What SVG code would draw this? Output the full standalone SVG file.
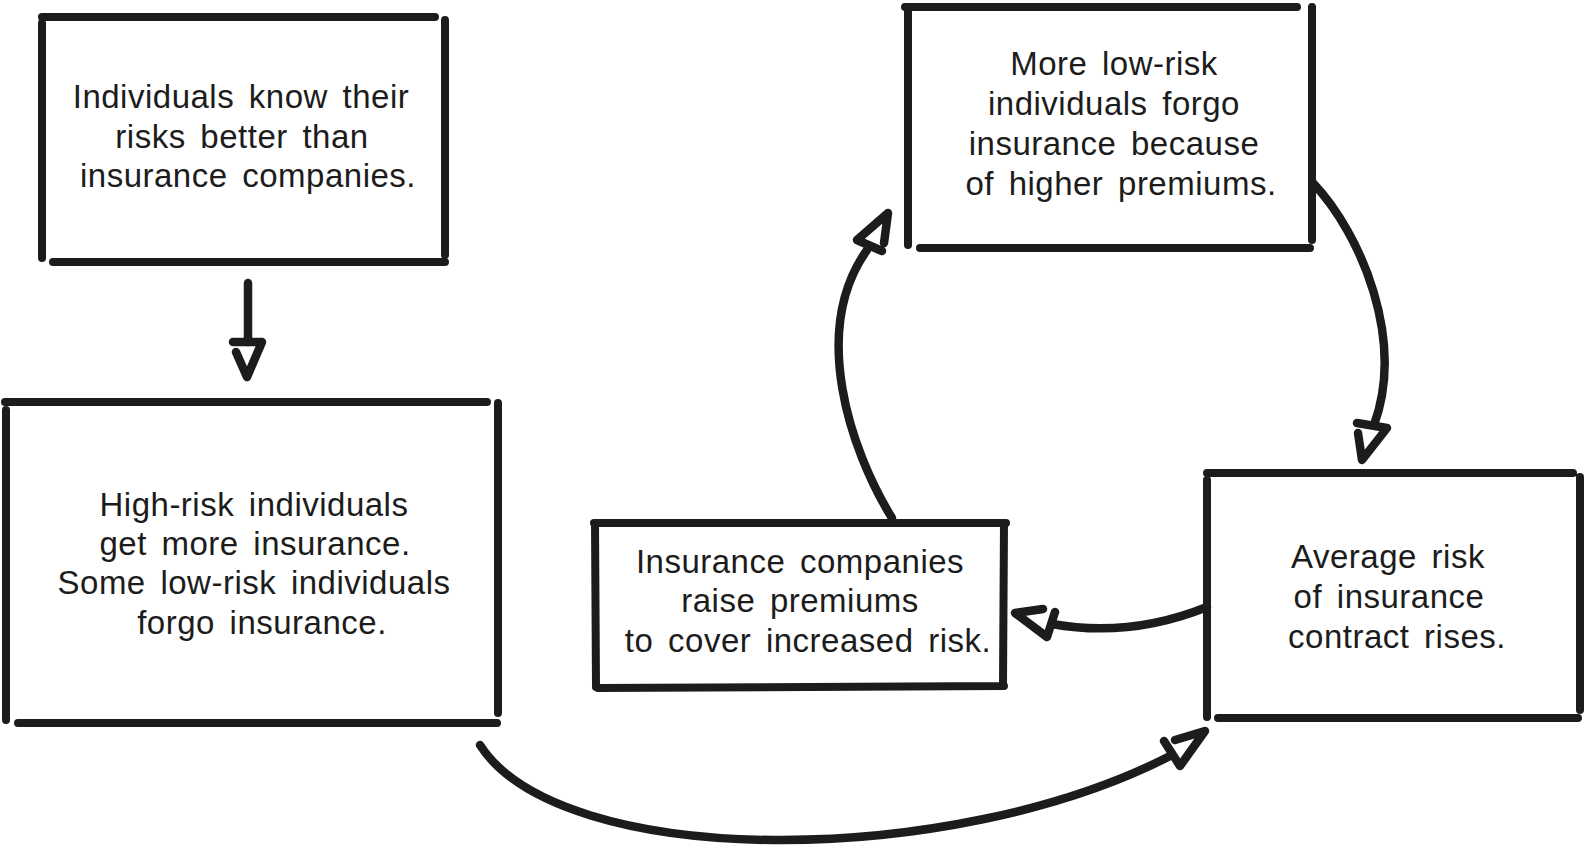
<svg xmlns="http://www.w3.org/2000/svg" width="1586" height="845" viewBox="0 0 1586 845">
<style>
.b{stroke:#1c1c1c;stroke-width:8;stroke-linecap:round;stroke-linejoin:round;fill:none}
.c{stroke:#1c1c1c;stroke-width:8.5;stroke-linecap:round;stroke-linejoin:round;fill:none}
.t{font-family:"Liberation Sans",Arial,sans-serif;font-size:33px;letter-spacing:0.5px;word-spacing:5px;fill:#1c1c1c;text-anchor:middle}
</style>
<rect width="1586" height="845" fill="#ffffff"/>
<g id="node-know-risks">
<path class="b" d="M42,17 L435,17 M42,23 L42,258 M445,20 L445,255 M53,262 L445,262"/>
<text class="t" x="241" y="108">Individuals know their</text>
<text class="t" x="242" y="148">risks better than</text>
<text class="t" x="248" y="187">insurance companies.</text>
</g>
<g id="node-high-risk">
<path class="b" d="M5,402 L487,402 M6,410 L6,720 M498,403 L498,713 M18,723 L497,723"/>
<text class="t" x="254" y="516">High-risk individuals</text>
<text class="t" x="255" y="555">get more insurance.</text>
<text class="t" x="254" y="594">Some low-risk individuals</text>
<text class="t" x="262" y="634">forgo insurance.</text>
</g>
<g id="node-raise-premiums">
<path class="b" d="M594,523 L1006,523 M595,523 L596,687 M1004,523 L1003,683 M598,688 L1004,686"/>
<text class="t" x="800" y="573">Insurance companies</text>
<text class="t" x="800" y="612">raise premiums</text>
<text class="t" x="808" y="652">to cover increased risk.</text>
</g>
<g id="node-more-low-risk">
<path class="b" d="M905,7 L1297,7 M908,10 L908,245 M1312,7 L1312,240 M920,248 L1310,248"/>
<text class="t" x="1114" y="75">More low-risk</text>
<text class="t" x="1114" y="115">individuals forgo</text>
<text class="t" x="1114" y="155">insurance because</text>
<text class="t" x="1121" y="195">of higher premiums.</text>
</g>
<g id="node-average-risk">
<path class="b" d="M1207,473 L1573,473 M1207,480 L1207,717 M1580,477 L1580,710 M1218,718 L1578,718"/>
<text class="t" x="1388" y="568">Average risk</text>
<text class="t" x="1389" y="608">of insurance</text>
<text class="t" x="1397" y="648">contract rises.</text>
</g>
<g id="connectors">
<path class="c" d="M248,283 L248,342"/>
<path class="c" d="M233,342 L262,342 L247,377 L236,352"/>
<path class="c" d="M480,745 C560,870 950,870 1172,755"/>
<path class="c" d="M1164,741 L1180,766 L1205,731 L1175,740"/>
<path class="c" d="M1207,607 Q1130,638 1052,624"/>
<path class="c" d="M1043,609 L1015,613 L1047,637 L1055,612"/>
<path class="c" d="M892,518 C850,450 810,330 867,250"/>
<path class="c" d="M884,243 L888,213 L857,240 L882,251"/>
<path class="c" d="M1313,183 C1362,235 1405,340 1374,425"/>
<path class="c" d="M1357,423 L1387,428 L1362,460 L1358,433"/>
</g>
</svg>
